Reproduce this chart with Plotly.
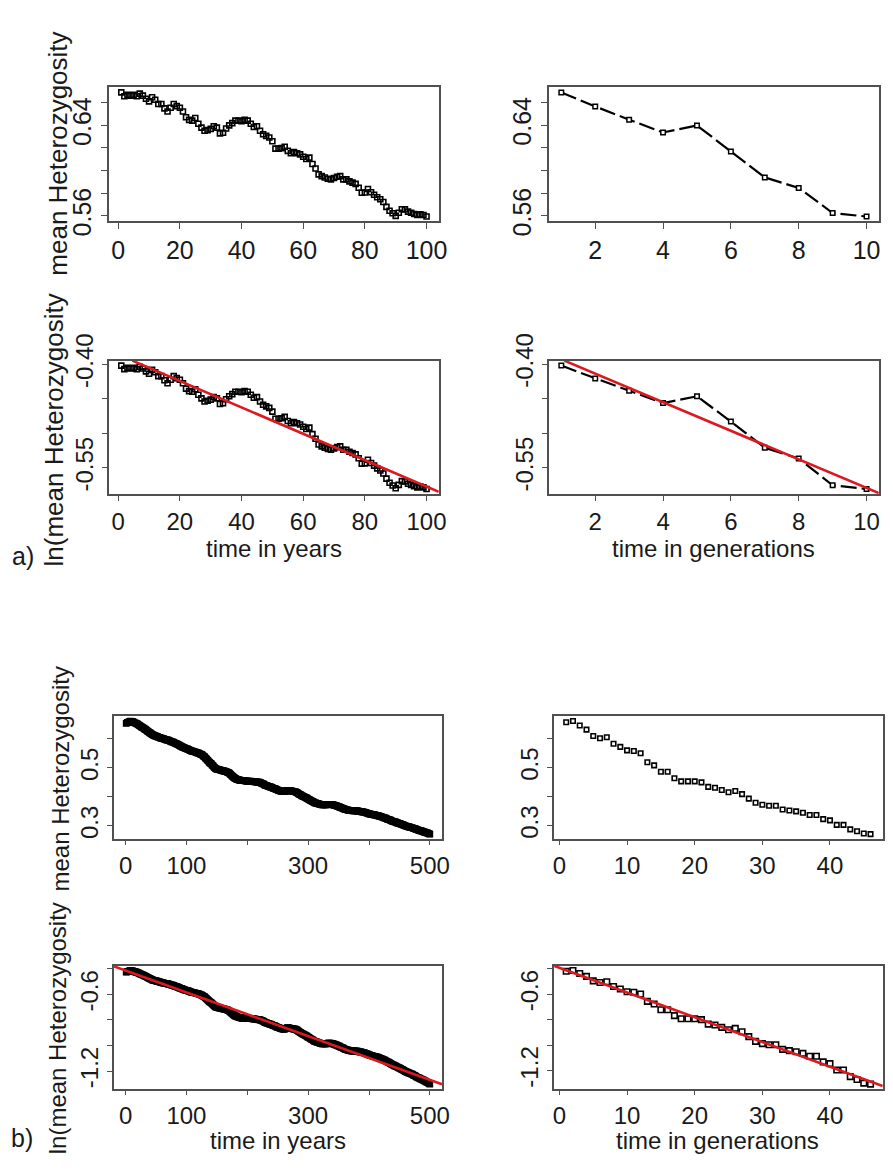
import numpy as np
import plotly.graph_objects as go

# ---------------- data: a) 100 years / 10 generations ----------------
years_a = list(range(1, 101))
het_years_a = [
    0.6691, 0.6657, 0.6669, 0.6663, 0.6669, 0.6657, 0.6680, 0.6663, 0.6635, 0.6612,
    0.6649, 0.6626, 0.6589, 0.6589, 0.6550, 0.6522, 0.6555, 0.6589, 0.6570, 0.6555,
    0.6522, 0.6471, 0.6448, 0.6442, 0.6465, 0.6414, 0.6380, 0.6352, 0.6358, 0.6369,
    0.6392, 0.6380, 0.6329, 0.6335, 0.6372, 0.6400, 0.6420, 0.6442, 0.6442, 0.6437,
    0.6448, 0.6442, 0.6414, 0.6386, 0.6392, 0.6352, 0.6321, 0.6307, 0.6293, 0.6259,
    0.6194, 0.6194, 0.6199, 0.6211, 0.6174, 0.6154, 0.6165, 0.6154, 0.6143, 0.6123,
    0.6103, 0.6115, 0.6058, 0.6018, 0.5967, 0.5951, 0.5939, 0.5928, 0.5922, 0.5934,
    0.5945, 0.5951, 0.5922, 0.5922, 0.5905, 0.5894, 0.5883, 0.5849, 0.5804, 0.5806,
    0.5837, 0.5809, 0.5787, 0.5764, 0.5747, 0.5722, 0.5679, 0.5645, 0.5623, 0.5600,
    0.5628, 0.5659, 0.5657, 0.5637, 0.5628, 0.5617, 0.5608, 0.5614, 0.5608, 0.5594,
]
gens_a = list(range(1, 11))
het_gens_a = [0.6688, 0.6564, 0.6448, 0.6335, 0.6397, 0.6168, 0.5939, 0.5846, 0.5625, 0.5594]

# ---------------- data: b) 500 years / 46 generations ----------------
years_b = list(range(1, 501))
het_years_b = [
    0.654, 0.655, 0.657, 0.656, 0.658, 0.659, 0.661, 0.662, 0.661, 0.660,
    0.659, 0.660, 0.658, 0.656, 0.655, 0.656, 0.654, 0.653, 0.652, 0.651,
    0.649, 0.648, 0.646, 0.645, 0.643, 0.642, 0.641, 0.639, 0.638, 0.637,
    0.635, 0.634, 0.632, 0.631, 0.629, 0.627, 0.626, 0.624, 0.623, 0.621,
    0.620, 0.618, 0.617, 0.615, 0.614, 0.613, 0.612, 0.611, 0.611, 0.610,
    0.609, 0.609, 0.607, 0.606, 0.606, 0.605, 0.604, 0.603, 0.603, 0.602,
    0.601, 0.601, 0.600, 0.599, 0.599, 0.598, 0.597, 0.597, 0.596, 0.596,
    0.595, 0.594, 0.593, 0.592, 0.591, 0.590, 0.590, 0.589, 0.588, 0.587,
    0.586, 0.585, 0.584, 0.583, 0.582, 0.581, 0.580, 0.579, 0.577, 0.576,
    0.575, 0.574, 0.573, 0.572, 0.571, 0.570, 0.569, 0.568, 0.567, 0.567,
    0.566, 0.565, 0.564, 0.563, 0.562, 0.561, 0.560, 0.559, 0.558, 0.558,
    0.557, 0.557, 0.556, 0.555, 0.555, 0.554, 0.553, 0.552, 0.552, 0.551,
    0.550, 0.549, 0.548, 0.547, 0.546, 0.545, 0.543, 0.541, 0.540, 0.538,
    0.535, 0.533, 0.531, 0.528, 0.526, 0.524, 0.521, 0.519, 0.517, 0.516,
    0.514, 0.511, 0.509, 0.507, 0.504, 0.502, 0.500, 0.498, 0.497, 0.496,
    0.495, 0.495, 0.494, 0.494, 0.493, 0.493, 0.492, 0.491, 0.491, 0.490,
    0.490, 0.489, 0.489, 0.488, 0.487, 0.487, 0.486, 0.485, 0.484, 0.483,
    0.481, 0.479, 0.477, 0.475, 0.473, 0.471, 0.469, 0.467, 0.466, 0.464,
    0.463, 0.462, 0.461, 0.460, 0.460, 0.459, 0.458, 0.458, 0.457, 0.457,
    0.456, 0.456, 0.456, 0.457, 0.456, 0.456, 0.455, 0.456, 0.455, 0.455,
    0.455, 0.454, 0.455, 0.454, 0.454, 0.455, 0.454, 0.453, 0.454, 0.453,
    0.453, 0.452, 0.453, 0.452, 0.451, 0.452, 0.451, 0.451, 0.450, 0.451,
    0.450, 0.449, 0.448, 0.447, 0.446, 0.445, 0.444, 0.443, 0.441, 0.440,
    0.439, 0.439, 0.438, 0.437, 0.437, 0.436, 0.435, 0.435, 0.434, 0.433,
    0.432, 0.431, 0.430, 0.430, 0.429, 0.428, 0.427, 0.426, 0.425, 0.424,
    0.423, 0.423, 0.422, 0.421, 0.420, 0.420, 0.419, 0.419, 0.418, 0.418,
    0.418, 0.419, 0.420, 0.421, 0.422, 0.423, 0.423, 0.422, 0.422, 0.422,
    0.421, 0.421, 0.420, 0.420, 0.419, 0.419, 0.418, 0.418, 0.418, 0.417,
    0.416, 0.415, 0.413, 0.412, 0.410, 0.409, 0.408, 0.407, 0.405, 0.404,
    0.403, 0.402, 0.401, 0.400, 0.399, 0.398, 0.397, 0.396, 0.394, 0.393,
    0.392, 0.391, 0.389, 0.388, 0.387, 0.386, 0.385, 0.384, 0.382, 0.381,
    0.380, 0.380, 0.379, 0.378, 0.378, 0.377, 0.376, 0.376, 0.375, 0.374,
    0.374, 0.374, 0.373, 0.373, 0.374, 0.373, 0.373, 0.374, 0.373, 0.373,
    0.374, 0.374, 0.375, 0.375, 0.375, 0.374, 0.375, 0.374, 0.374, 0.374,
    0.373, 0.372, 0.372, 0.371, 0.370, 0.370, 0.369, 0.368, 0.367, 0.367,
    0.366, 0.365, 0.364, 0.363, 0.362, 0.362, 0.361, 0.360, 0.359, 0.358,
    0.357, 0.357, 0.356, 0.356, 0.355, 0.355, 0.354, 0.354, 0.354, 0.353,
    0.353, 0.353, 0.352, 0.353, 0.352, 0.352, 0.353, 0.352, 0.352, 0.352,
    0.352, 0.351, 0.351, 0.350, 0.350, 0.350, 0.350, 0.349, 0.349, 0.349,
    0.348, 0.348, 0.347, 0.346, 0.346, 0.345, 0.344, 0.344, 0.343, 0.342,
    0.342, 0.341, 0.341, 0.340, 0.340, 0.339, 0.339, 0.338, 0.338, 0.338,
    0.337, 0.337, 0.336, 0.336, 0.335, 0.335, 0.334, 0.333, 0.333, 0.332,
    0.331, 0.331, 0.330, 0.329, 0.328, 0.328, 0.327, 0.326, 0.325, 0.324,
    0.323, 0.323, 0.322, 0.321, 0.320, 0.319, 0.318, 0.317, 0.316, 0.316,
    0.315, 0.314, 0.314, 0.313, 0.312, 0.311, 0.311, 0.310, 0.309, 0.309,
    0.308, 0.307, 0.306, 0.305, 0.305, 0.304, 0.303, 0.302, 0.301, 0.300,
    0.300, 0.299, 0.299, 0.298, 0.297, 0.297, 0.296, 0.295, 0.295, 0.294,
    0.294, 0.293, 0.292, 0.291, 0.291, 0.290, 0.289, 0.288, 0.287, 0.287,
    0.286, 0.285, 0.285, 0.284, 0.283, 0.283, 0.282, 0.281, 0.281, 0.280,
    0.279, 0.279, 0.278, 0.277, 0.276, 0.276, 0.275, 0.274, 0.273, 0.272,
]
gens_b = list(range(1, 47))
het_gens_b = [
    0.6566, 0.6610, 0.6455, 0.6312, 0.6092, 0.6014, 0.6047, 0.5827, 0.5717, 0.5595,
    0.5573, 0.5496, 0.5187, 0.5077, 0.4857, 0.4857, 0.4636, 0.4526, 0.4526, 0.4526,
    0.4493, 0.4338, 0.4305, 0.4228, 0.4151, 0.4195, 0.4085, 0.3931, 0.3787, 0.3721,
    0.3688, 0.3688, 0.3556, 0.3523, 0.3490, 0.3446, 0.3368, 0.3368, 0.3225, 0.3181,
    0.3026, 0.3026, 0.2872, 0.2806, 0.2729, 0.2707,
]

# ---------------- tick definitions ----------------
xt_years_a = [0, 20, 40, 60, 80, 100]
xl_years_a = ["0", "20", "40", "60", "80", "100"]
xt_gens_a = [2, 4, 6, 8, 10]
xl_gens_a = ["2", "4", "6", "8", "10"]
yt_het_a = [0.56, 0.58, 0.60, 0.62, 0.64, 0.66]
yl_het_a = ["0.56", "", "", "", "0.64", ""]
yt_ln_a = [-0.55, -0.50, -0.45, -0.40]
yl_ln_a = ["-0.55", "", "", "-0.40"]

xt_years_b = [0, 100, 200, 300, 400, 500]
xl_years_b = ["0", "100", "", "300", "", "500"]
xt_gens_b = [0, 10, 20, 30, 40]
xl_gens_b = ["0", "10", "20", "30", "40"]
yt_het_b = [0.3, 0.4, 0.5, 0.6]
yl_het_b = ["0.3", "", "0.5", ""]
yt_ln_b = [-1.2, -1.0, -0.8, -0.6, -0.4]
yl_ln_b = ["-1.2", "", "", "-0.6", ""]

# ---------------- page geometry (pixels) ----------------
W, H = 893, 1176
FONT = "Liberation Sans, Arial, sans-serif"
INK = "#1a1a1a"
BOX = "#505050"
RED = "#dc1820"


def rpad(v):
    """R-style axis range: data range widened by 4% on each side."""
    lo, hi = float(min(v)), float(max(v))
    d = (hi - lo) * 0.04
    return [lo - d, hi + d]


def dom_x(l, r):
    return [l / W, r / W]


def dom_y(t, b):
    return [1 - b / H, 1 - t / H]


fig = go.Figure()
layout = {}
annotations = []

# each panel: data, box (l, r, t, b) in px, ticks, drawing style
panels = [
    dict(x=years_a, y=het_years_a, box=(109.3, 442.7, 62.7, 201.7), tf=25, tl=6,
         xt=(xt_years_a, xl_years_a), yt=(yt_het_a, yl_het_a), kind="points", ms=5, fit=False),
    dict(x=gens_a, y=het_gens_a, box=(554.3, 887.7, 62.7, 201.7), tf=25, tl=6,
         xt=(xt_gens_a, xl_gens_a), yt=(yt_het_a, yl_het_a), kind="dashed", ms=4.5, fit=False),
    dict(x=years_a, y=list(np.log(het_years_a)), box=(109.3, 442.7, 346, 484.3), tf=24, tl=5,
         xt=(xt_years_a, xl_years_a), yt=(yt_ln_a, yl_ln_a), kind="points", ms=5, fit=True),
    dict(x=gens_a, y=list(np.log(het_gens_a)), box=(554.3, 887.7, 346, 484.3), tf=24, tl=5,
         xt=(xt_gens_a, xl_gens_a), yt=(yt_ln_a, yl_ln_a), kind="dashed", ms=4.5, fit=True),
    dict(x=years_b, y=het_years_b, box=(114.3, 446, 715, 841.7), tf=24, tl=5,
         xt=(xt_years_b, xl_years_b), yt=(yt_het_b, yl_het_b), kind="dense", ms=5, fit=False),
    dict(x=gens_b, y=het_gens_b, box=(559.3, 891.7, 715, 841.7), tf=24, tl=5,
         xt=(xt_gens_b, xl_gens_b), yt=(yt_het_b, yl_het_b), kind="points", ms=4.5, fit=False),
    dict(x=years_b, y=list(np.log(het_years_b)), box=(114.3, 446, 973.7, 1101), tf=24, tl=5,
         xt=(xt_years_b, xl_years_b), yt=(yt_ln_b, yl_ln_b), kind="dense", ms=5, fit=True),
    dict(x=gens_b, y=list(np.log(het_gens_b)), box=(559.3, 891.7, 973.7, 1101), tf=24, tl=5,
         xt=(xt_gens_b, xl_gens_b), yt=(yt_ln_b, yl_ln_b), kind="points", ms=5.5, fit=True),
]

for i, p in enumerate(panels, start=1):
    xa = "x" if i == 1 else f"x{i}"
    ya = "y" if i == 1 else f"y{i}"
    l, r, t, b = p["box"]
    xr = rpad(p["x"])
    yr = rpad(p["y"])

    common = dict(showline=True, mirror=True, linecolor=BOX, linewidth=1.6,
                  ticks="outside", ticklen=p["tl"], tickwidth=1.4, tickcolor=BOX,
                  showgrid=False, zeroline=False, fixedrange=True,
                  tickfont=dict(family=FONT, size=p["tf"], color=INK))
    layout["xaxis" if i == 1 else f"xaxis{i}"] = dict(
        common, domain=dom_x(l, r), range=xr, anchor=ya,
        tickmode="array", tickvals=p["xt"][0], ticktext=p["xt"][1], tickangle=0)
    layout["yaxis" if i == 1 else f"yaxis{i}"] = dict(
        common, domain=dom_y(t, b), range=yr, anchor=xa,
        tickmode="array", tickvals=p["yt"][0], ticktext=p["yt"][1], tickangle=-90)

    if p["kind"] == "dashed":
        fig.add_trace(go.Scatter(
            x=p["x"], y=p["y"], xaxis=xa, yaxis=ya, mode="lines+markers",
            line=dict(color="black", width=2.2, dash="16px,5px"),
            marker=dict(symbol="square", size=p["ms"], color="white",
                        line=dict(color="black", width=1.5)),
            hoverinfo="skip"))
    elif p["kind"] == "dense":
        fig.add_trace(go.Scatter(
            x=p["x"], y=p["y"], xaxis=xa, yaxis=ya, mode="markers",
            marker=dict(symbol="square-open", size=p["ms"], color="black",
                        line=dict(color="black", width=1.7)),
            hoverinfo="skip"))
    else:
        fig.add_trace(go.Scatter(
            x=p["x"], y=p["y"], xaxis=xa, yaxis=ya, mode="markers",
            marker=dict(symbol="square-open", size=p["ms"], color="black",
                        line=dict(color="black", width=1.6)),
            hoverinfo="skip"))

    if p["fit"]:
        # least-squares line, trimmed to the visible box
        slope, icpt = np.polyfit(np.asarray(p["x"], float), np.asarray(p["y"], float), 1)
        x_at_top = (yr[1] - icpt) / slope
        x_at_bot = (yr[0] - icpt) / slope
        x0 = max(xr[0], min(x_at_top, x_at_bot))
        x1 = min(xr[1], max(x_at_top, x_at_bot))
        fx = np.array([x0, x1])
        fig.add_trace(go.Scatter(
            x=fx, y=slope * fx + icpt, xaxis=xa, yaxis=ya, mode="lines",
            line=dict(color=RED, width=2.6), hoverinfo="skip"))


def label(text, px, py, size=25, angle=0):
    annotations.append(dict(
        text=text, x=px / W, y=1 - py / H, xref="paper", yref="paper",
        showarrow=False, textangle=angle, xanchor="center", yanchor="middle",
        font=dict(family=FONT, size=size, color=INK)))


# y-axis titles
label("mean Heterozygosity", 58, 131, size=26, angle=-90)
label("ln(mean Heterozygosity", 54, 418, size=26, angle=-90)
label("mean Heterozygosity", 60, 780, size=24, angle=-90)
label("ln(mean Heterozygosity", 58, 1038, size=24, angle=-90)

# x-axis titles
label("time in years", 276, 541, size=24)
label("time in generations", 721, 541, size=24)
label("time in years", 280, 1155, size=24)
label("time in generations", 725, 1155, size=24)

# panel letters
label("a)", 22, 549)
label("b)", 21, 1152)

layout.update(
    width=W, height=H,
    margin=dict(l=0, r=0, t=0, b=0),
    paper_bgcolor="white", plot_bgcolor="white",
    showlegend=False,
    annotations=annotations,
)
fig.update_layout(**layout)

fig.write_html("out.html", config={"displayModeBar": False})
